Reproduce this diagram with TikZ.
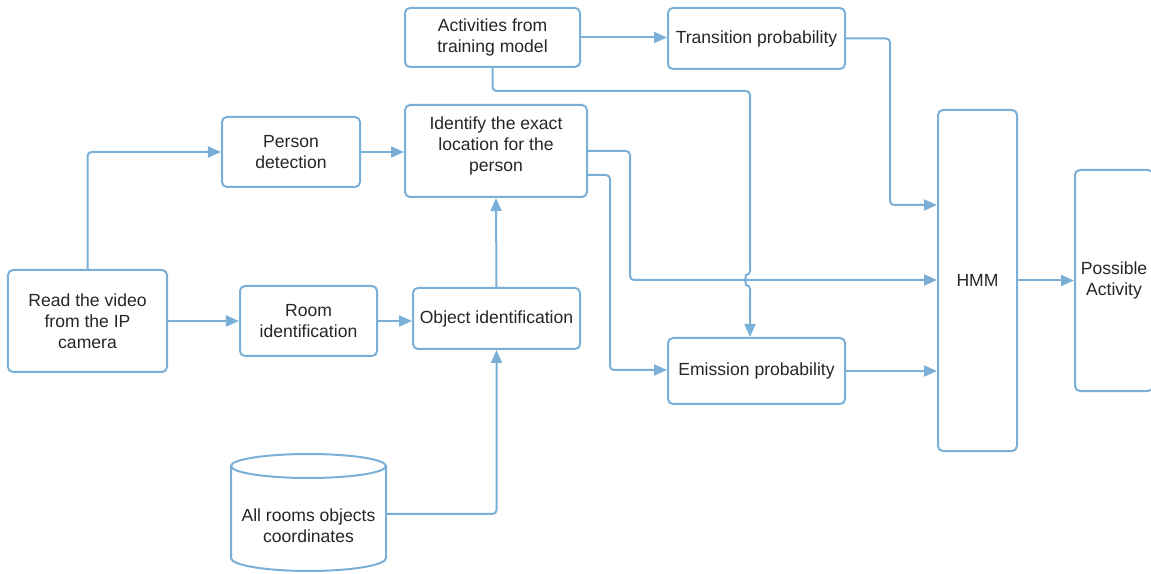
\documentclass[tikz,border=0pt]{standalone}
\usepackage{fontspec}
\setmainfont{Liberation Sans}
\usetikzlibrary{arrows.meta}
\definecolor{linkblue}{RGB}{122,176,216}
\tikzset{
	box/.style={draw=linkblue, line width=0.4mm, rounded corners=1mm, align=center, text=black!85, inner sep=0pt},
	link/.style={draw=linkblue, line width=0.4mm, rounded corners=0.8mm},
	flow/.style={link, -{Triangle[length=2.6mm, width=2.2mm]}},
}

\begin{document}
\begin{tikzpicture}[x=0.2mm, y=-0.2mm]
		%%%%% START %%%%%
		\useasboundingbox (0, 0) rectangle (1151, 574);
		
		\node[box, minimum width=31.8mm, minimum height=20.4mm] (read) at (87.5, 321) {Read the video\\from the IP\\camera};
		\node[box, minimum width=27.6mm, minimum height=14mm] (person) at (291, 152) {Person\\detection};
		\node[box, minimum width=27.4mm, minimum height=14mm] (room) at (308.5, 321) {Room\\identification};
		\node[box, minimum width=36.4mm, minimum height=18.4mm] (locate) at (496, 151) {Identify the exact\\location for the\\person\\[-4pt]\mbox{}};
		\node[box, minimum width=33.4mm, minimum height=12.2mm] (objid) at (496.5, 318.5) {Object identification};
		
		\node[box, minimum width=35mm, minimum height=11.8mm] (acts) at (492.5, 37.5) {Activities from\\training model};
		\node[box, minimum width=35.4mm, minimum height=12.2mm] (trans) at (756.5, 38.5) {Transition probability};
		\node[box, minimum width=35.4mm, minimum height=13.2mm] (emis) at (756.5, 371) {Emission probability};
		
		\node[box, minimum width=15.8mm, minimum height=68.2mm] (hmm) at (977.5, 280.5) {HMM};
		\node[box, minimum width=15.6mm, minimum height=44.2mm] (activity) at (1114, 280.5) {Possible\\Activity};
		
		% storage drum
		\draw[line width=0.4mm, color=linkblue] (231, 466) -- (231, 558) arc[start angle=180, end angle=0, x radius=77.5, y radius=13] -- (386, 466);
		\draw[line width=0.4mm, color=linkblue] (308.5, 466) ellipse [x radius=77.5, y radius=12];
		\node[align=center, text=black!85, minimum width=31mm] (store) at (308.5, 526) {All rooms objects\\coordinates};
		
		% bends and the hop
		\coordinate (tbend) at (890, 205);
		\coordinate (lbend) at (630, 280);
		\coordinate (ebend) at (610, 370);
		\coordinate (hopin) at (750, 275);
		\coordinate (hopout) at (750, 285);
		
		\draw[flow] (read.north) |- (person.west);
		\draw[flow] (person.east) -- (person.east -| locate.west);
		\draw[flow] (read.east) -- (room.west);
		\draw[flow] (room.east) -- (room.east -| objid.west);
		\draw[flow] (objid.north) -- (locate.south);
		\draw[flow] ([yshift=2.4mm]store.east) -| (objid.south);
		
		\draw[flow] (acts.east) -- (acts.east -| trans.west);
		\draw[flow] (trans.east) -| (tbend) -- (tbend -| hmm.west);
		
		\draw[flow] (locate.east) -| (lbend) -- (lbend -| hmm.west);
		\draw[flow] ([yshift=-4.8mm]locate.east) -| (ebend) -- (ebend -| emis.west);
		\draw[flow] (acts.south) -- ++(0, 23) -| (hopin) arc[start angle=270, end angle=90, radius=5] -- (hopout |- emis.north);
		
		\draw[flow] (emis.east) -- (emis.east -| hmm.west);
		\draw[flow] (hmm.east) -- (hmm.east -| activity.west);
		
		%%%%% END %%%%%
	\end{tikzpicture}
\end{document}
